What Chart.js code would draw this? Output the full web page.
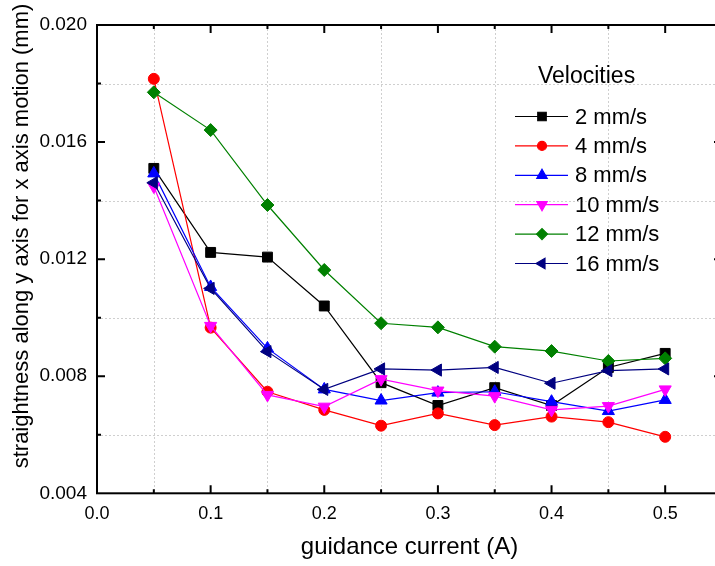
<!DOCTYPE html>
<html>
<head>
<meta charset="utf-8">
<script src="https://cdn.jsdelivr.net/npm/chart.js@4/dist/chart.umd.min.js"></script>
<style>
  html, body { margin: 0; padding: 0; background: #fff; overflow: hidden; }
  #wrap { width: 730px; height: 566px; }
</style>
</head>
<body>
<div id="wrap"><canvas id="chart" width="730" height="566"></canvas></div>
<script>
// guidance current (A)
const currents = [0.05, 0.10, 0.15, 0.20, 0.25, 0.30, 0.35, 0.40, 0.45, 0.50];

// straightness (mm)
const v2  = [0.01510, 0.01223, 0.01207, 0.01040, 0.00778, 0.00700, 0.00761, 0.00700, 0.00830, 0.00878];
const v4  = [0.01816, 0.00966, 0.00747, 0.00685, 0.00631, 0.00673, 0.00633, 0.00662, 0.00643, 0.00593];
const v8  = [0.01493, 0.01105, 0.00895, 0.00755, 0.00717, 0.00744, 0.00747, 0.00713, 0.00681, 0.00719];
const v10 = [0.01448, 0.00972, 0.00736, 0.00696, 0.00790, 0.00751, 0.00732, 0.00685, 0.00698, 0.00755];
const v12 = [0.01770, 0.01641, 0.01385, 0.01163, 0.00981, 0.00967, 0.00901, 0.00886, 0.00852, 0.00861];
const v16 = [0.01461, 0.01100, 0.00884, 0.00755, 0.00825, 0.00821, 0.00830, 0.00776, 0.00819, 0.00825];

const seriesLabels = ['2 mm/s', '4 mm/s', '8 mm/s', '10 mm/s', '12 mm/s', '16 mm/s'];
const seriesValues = [v2, v4, v8, v10, v12, v16];

const xTicks = [0.0, 0.1, 0.2, 0.3, 0.4, 0.5];
const yTicks = [0.004, 0.008, 0.012, 0.016, 0.020];

const FONT = '"Liberation Sans", Arial, sans-serif';

// marker look per series
const looks = [
  { color: '#000000', style: 'rect',     radius: 7,   rot: 0 },
  { color: '#ff0000', style: 'circle',   radius: 5.5, rot: 0 },
  { color: '#0000ff', style: 'triangle', radius: 7,   rot: 0 },
  { color: '#ff00ff', style: 'triangle', radius: 7,   rot: 180 },
  { color: '#008000', style: 'rectRot',  radius: 6.5, rot: 0 },
  { color: '#000080', style: 'triangle', radius: 7,   rot: -90 }
];

const datasets = seriesValues.map((vals, i) => ({
  label: seriesLabels[i],
  data: vals.map((v, j) => ({ x: currents[j], y: v })),
  borderColor: looks[i].color,
  backgroundColor: looks[i].color,
  borderWidth: 1.2,
  pointStyle: looks[i].style,
  pointRotation: looks[i].rot,
  pointRadius: looks[i].radius,
  pointBorderWidth: 1,
  tension: 0,
  order: seriesValues.length - i
}));

// dotted grid at the half steps, frame and inward ticks, axis titles, legend
const framePlugin = {
  id: 'frame',
  beforeDatasetsDraw(chart) {
    const { ctx, chartArea: a, scales: { x, y } } = chart;
    ctx.save();
    ctx.strokeStyle = '#cfcfcf';
    ctx.lineWidth = 1;
    ctx.setLineDash([2, 2]);
    for (let k = 0; k < 6; k++) {
      const px = Math.round(x.getPixelForValue(0.05 + k * 0.1)) + 0.5;
      ctx.beginPath(); ctx.moveTo(px, a.top); ctx.lineTo(px, a.bottom); ctx.stroke();
    }
    for (let k = 0; k < 4; k++) {
      const py = Math.round(y.getPixelForValue(0.006 + k * 0.004)) + 0.5;
      ctx.beginPath(); ctx.moveTo(a.left, py); ctx.lineTo(a.right, py); ctx.stroke();
    }
    ctx.restore();
  },
  afterDraw(chart) {
    const { ctx, chartArea: a, scales: { x, y } } = chart;
    ctx.save();
    ctx.strokeStyle = '#000';
    ctx.lineWidth = 2;
    ctx.strokeRect(a.left, a.top, a.right - a.left, a.bottom - a.top);

    // x ticks, bottom and top
    for (let k = 1; k <= 10; k++) {
      const v = k * 0.05;
      const len = k % 2 === 0 ? 8 : 4;
      const px = x.getPixelForValue(v);
      ctx.beginPath();
      ctx.moveTo(px, a.bottom); ctx.lineTo(px, a.bottom - len);
      ctx.moveTo(px, a.top); ctx.lineTo(px, a.top + len);
      ctx.stroke();
    }
    // y ticks, left and right
    for (let k = 1; k < 8; k++) {
      const v = 0.004 + k * 0.002;
      const len = k % 2 === 0 ? 8 : 4;
      const py = y.getPixelForValue(v);
      ctx.beginPath();
      ctx.moveTo(a.left, py); ctx.lineTo(a.left + len, py);
      ctx.moveTo(a.right, py); ctx.lineTo(a.right - len, py);
      ctx.stroke();
    }

    // axis titles
    ctx.fillStyle = '#000';
    ctx.textAlign = 'center';
    ctx.textBaseline = 'middle';
    ctx.font = '24px ' + FONT;
    ctx.fillText('guidance current (A)', (a.left + a.right) / 2, 547);
    ctx.save();
    ctx.translate(22, 236);
    ctx.rotate(-Math.PI / 2);
    ctx.font = '22px ' + FONT;
    ctx.fillText('straightness along y axis for x axis motion (mm)', 0, 0);
    ctx.restore();

    // legend
    ctx.textAlign = 'left';
    ctx.font = '23px ' + FONT;
    ctx.fillText('Velocities', 538, 77);
    ctx.font = '22px ' + FONT;
    chart.data.datasets.forEach((ds, i) => {
      const ry = 116.5 + i * 29.4;
      ctx.strokeStyle = ds.borderColor;
      ctx.fillStyle = ds.backgroundColor;
      ctx.lineWidth = 1.2;
      ctx.beginPath(); ctx.moveTo(515, ry); ctx.lineTo(568, ry); ctx.stroke();
      Chart.helpers.drawPoint(ctx, {
        pointStyle: ds.pointStyle, rotation: ds.pointRotation,
        radius: ds.pointRadius - 1, borderWidth: 1
      }, 542, ry);
      ctx.fillStyle = '#000';
      ctx.fillText(ds.label, 575, ry + 1);
    });
    ctx.restore();
  }
};

new Chart(document.getElementById('chart'), {
  type: 'line',
  data: { datasets },
  options: {
    responsive: false,
    animation: false,
    layout: { padding: { top: 25, right: 6.5, bottom: 0, left: 0 } },
    plugins: { legend: { display: false }, tooltip: { enabled: false } },
    scales: {
      x: {
        type: 'linear',
        min: 0, max: 0.55,
        afterFit: s => { s.height = 72.7; },
        afterBuildTicks: s => { s.ticks = xTicks.map(v => ({ value: v })); },
        grid: { display: false, drawTicks: false },
        border: { display: false },
        ticks: {
          color: '#000', padding: 10,
          font: { family: FONT, size: 18 },
          callback: v => v.toFixed(1)
        }
      },
      y: {
        type: 'linear',
        min: 0.004, max: 0.020,
        afterFit: s => { s.width = 97; },
        afterBuildTicks: s => { s.ticks = yTicks.map(v => ({ value: v })); },
        grid: { display: false, drawTicks: false },
        border: { display: false },
        ticks: {
          color: '#000', padding: 10,
          font: { family: FONT, size: 19 },
          callback: v => v.toFixed(3)
        }
      }
    }
  },
  plugins: [framePlugin]
});
</script>
</body>
</html>
